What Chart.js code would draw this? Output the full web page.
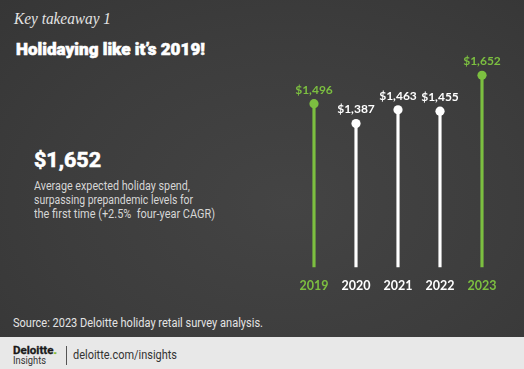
<!DOCTYPE html>
<html>
<head>
<meta charset="utf-8">
<script src="https://cdn.jsdelivr.net/npm/chart.js@4"></script>
<style>
  html, body { margin: 0; padding: 0; }
  body {
    width: 524px; height: 369px; position: relative; overflow: hidden;
    background: radial-gradient(ellipse at 55% 55%, #444444 0%, #3d3d3d 55%, #363636 100%);
    font-family: Roboto, "Liberation Sans", sans-serif;
  }
  .t { position: absolute; white-space: nowrap; line-height: 1; display: inline-block; transform-origin: 0 0; }
  #kt { left: 14px; top: 11px; font-family: "Liberation Serif", serif; font-style: italic; font-size: 16px; color: #e4e4e4; }
  #title { left: 16px; top: 41px; font-size: 17px; font-weight: 900; color: #ffffff; -webkit-text-stroke: 0.6px #ffffff; }
  #big { left: 34px; top: 150px; font-size: 20px; font-weight: 700; color: #ffffff; -webkit-text-stroke: 0.6px #ffffff; }
  .p { left: 34px; font-size: 12.5px; color: #d6d6d6; }
  #src { left: 13px; top: 317px; font-size: 12.5px; color: #e4e4e4; }
  #footer { position: absolute; left: 0; top: 337px; width: 524px; height: 32px; background: #e8e8e8; }
  #dl { left: 13px; top: 345.5px; font-size: 10px; font-weight: 700; color: #1a1a1a; -webkit-text-stroke: 0.3px #1a1a1a; }
  #dl b { color: #86bc25; -webkit-text-stroke: 0.3px #86bc25; }
  #ins { left: 13px; top: 355.5px; font-size: 10px; color: #333333; }
  #div { position: absolute; left: 65.5px; top: 346px; width: 1px; height: 19px; background: #555555; }
  #url { left: 73px; top: 347.5px; font-size: 13.5px; color: #333333; }
  #wrap { position: absolute; left: 280px; top: 30px; width: 240px; height: 280px; }
</style>
</head>
<body>
<span class="t" id="kt" data-w="97">Key takeaway 1</span>
<span class="t" id="title" data-w="189">Holidaying like it’s 2019!</span>
<span class="t" id="big" data-w="67">$1,652</span>
<span class="t p" style="top:179.5px" data-w="156">Average expected holiday spend,</span>
<span class="t p" style="top:193.5px" data-w="159">surpassing prepandemic levels for</span>
<span class="t p" style="top:207.5px" data-w="181">the first time (+2.5%&nbsp; four-year CAGR)</span>
<span class="t" id="src" data-w="250">Source: 2023 Deloitte holiday retail survey analysis.</span>
<div id="footer"></div>
<span class="t" id="dl" data-w="44">Deloitte<b>.</b></span>
<span class="t" id="ins" data-w="33">Insights</span>
<div id="div"></div>
<span class="t" id="url" data-w="104">deloitte.com/insights</span>
<div id="wrap"><canvas id="c"></canvas></div>
<script>
// ---- data ----
const years = ['2019', '2020', '2021', '2022', '2023'];
const spend = [1496, 1387, 1463, 1455, 1652];
const highlightYears = ['2019', '2023'];

// ---- text fitting ----
function fitTexts() {
  document.querySelectorAll('[data-w]').forEach(el => {
    el.style.transform = 'none';
    const w = el.getBoundingClientRect().width;
    const target = parseFloat(el.dataset.w);
    if (w > 0) el.style.transform = 'scaleX(' + (target / w) + ')';
  });
}
fitTexts();
if (document.fonts && document.fonts.ready) document.fonts.ready.then(fitTexts);

const GREEN = '#7cbf40';
const WHITE = '#ffffff';
const colorFor = (i) => highlightYears.includes(years[i]) ? GREEN : WHITE;
const colors = years.map((y, i) => colorFor(i));

const valueLabels = {
  id: 'valueLabels',
  afterDatasetsDraw(chart) {
    const meta = chart.getDatasetMeta(1);
    const ctx = chart.ctx;
    ctx.save();
    ctx.font = 'bold 12px Lato, "DejaVu Sans", sans-serif';
    ctx.textAlign = 'center';
    ctx.textBaseline = 'middle';
    meta.data.forEach((pt, i) => {
      ctx.fillStyle = colorFor(i);
      ctx.fillText('$' + spend[i].toLocaleString('en-US'), pt.x, pt.y - 14);
    });
    ctx.restore();
  }
};

new Chart(document.getElementById('c'), {
  type: 'bar',
  data: {
    labels: years,
    datasets: [
      {
        type: 'bar',
        data: spend,
        backgroundColor: colors,
        borderWidth: 0,
        barThickness: 2.5,
        order: 2
      },
      {
        type: 'line',
        data: spend,
        showLine: false,
        pointRadius: 4.6,
        pointHoverRadius: 4.6,
        pointBackgroundColor: colors,
        pointBorderWidth: 0,
        order: 1
      }
    ]
  },
  options: {
    responsive: true,
    maintainAspectRatio: false,
    animation: false,
    events: [],
    layout: { padding: { left: 13, right: 17, top: 36.5, bottom: 13.8 } },
    plugins: { legend: { display: false }, tooltip: { enabled: false } },
    scales: {
      x: {
        grid: { display: false },
        border: { display: false },
        ticks: {
          padding: 3,
          color: (c) => colorFor(c.index),
          font: { family: 'Lato, "DejaVu Sans", sans-serif', size: 12.5, weight: 'bold' }
        }
      },
      y: {
        display: false,
        min: 600,
        max: 1700
      }
    }
  },
  plugins: [valueLabels]
});
</script>
</body>
</html>
